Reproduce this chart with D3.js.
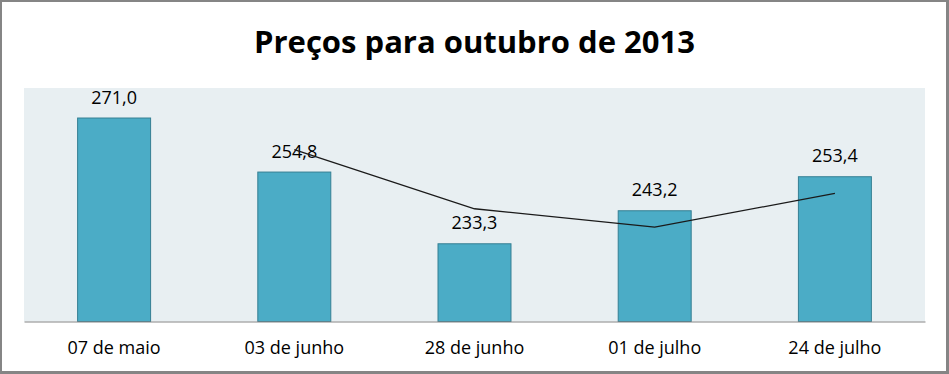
<!DOCTYPE html>
<html>
<head>
<meta charset="utf-8">
<script src="https://cdn.jsdelivr.net/npm/d3@7"></script>
<style>
  body { margin: 0; background: #fff; }
  text { font-family: "Open Sans", "Noto Sans", sans-serif; }
</style>
</head>
<body>
<div id="chart"></div>
<script>
const categories = ["07 de maio", "03 de junho", "28 de junho", "01 de julho", "24 de julho"];
const barValues = [271.0, 254.8, 233.3, 243.2, 253.4];
const lineValues = [null, 261.5, 243.8, 238.3, 248.4];
const yDomain = [210, 280];
const title = "Preços para outubro de 2013";

const width = 949, height = 374;
const plot = {left: 24, right: 925, top: 88, bottom: 321.5};

const ptBR = d3.formatLocale({decimal: ",", thousands: ".", grouping: [3], currency: ["R$", ""]});
const fmt = ptBR.format(".1f");

const svg = d3.select("#chart")
    .append("svg")
        .attr("width", width)
        .attr("height", height);

// frame
svg.append("rect")
    .attr("width", width).attr("height", height)
    .attr("fill", "#858585");
svg.append("rect")
    .attr("x", 2).attr("y", 2)
    .attr("width", 944).attr("height", 369)
    .attr("fill", "#fff");

// title
svg.append("text")
    .attr("x", 474.5).attr("y", 53)
    .attr("text-anchor", "middle")
    .style("font-size", "31px")
    .style("font-weight", "bold")
    .attr("fill", "#000")
    .text(title);

// plot background
svg.append("rect")
    .attr("x", plot.left).attr("y", plot.top)
    .attr("width", plot.right - plot.left)
    .attr("height", plot.bottom - plot.top)
    .attr("fill", "#e8eff2");

const x = d3.scaleBand()
    .domain(categories)
    .range([plot.left, plot.right])
    .padding(0);

const y = d3.scaleLinear()
    .domain(yDomain)
    .range([plot.bottom, plot.top]);

const barW = x.bandwidth() * 0.405;
const cx = d => x(d) + x.bandwidth() / 2;

// bars
svg.selectAll("rect.bar")
    .data(barValues)
    .enter()
    .append("rect")
        .attr("class", "bar")
        .attr("x", (d, i) => cx(categories[i]) - barW / 2)
        .attr("y", d => y(d))
        .attr("width", barW)
        .attr("height", d => plot.bottom - y(d))
        .attr("fill", "#4bacc6")
        .attr("stroke", "#357f93")
        .attr("stroke-width", 1);

// X axis
const xAxis = svg.append("g")
    .attr("transform", `translate(0, ${plot.bottom})`)
    .call(d3.axisBottom(x).tickSize(0).tickSizeOuter(0));
xAxis.select(".domain")
    .attr("stroke", "#868686")
    .attr("stroke-width", 1.2);
xAxis.selectAll("text")
    .attr("y", 32)
    .attr("dy", 0)
    .style("font-size", "18px")
    .style("font-family", '"Open Sans", sans-serif')
    .attr("fill", "#000");

// data labels
svg.selectAll("text.lbl")
    .data(barValues)
    .enter()
    .append("text")
        .attr("class", "lbl")
        .attr("x", (d, i) => cx(categories[i]))
        .attr("y", d => y(d) - 14.5)
        .attr("text-anchor", "middle")
        .style("font-size", "18px")
        .attr("fill", "#000")
        .text(d => fmt(d));

// line
const line = d3.line()
    .defined(d => d != null)
    .x((d, i) => cx(categories[i]))
    .y(d => y(d));
svg.append("path")
    .datum(lineValues)
    .attr("d", line)
    .attr("fill", "none")
    .attr("stroke", "#1a1a1a")
    .attr("stroke-width", 1.3);
</script>
</body>
</html>
